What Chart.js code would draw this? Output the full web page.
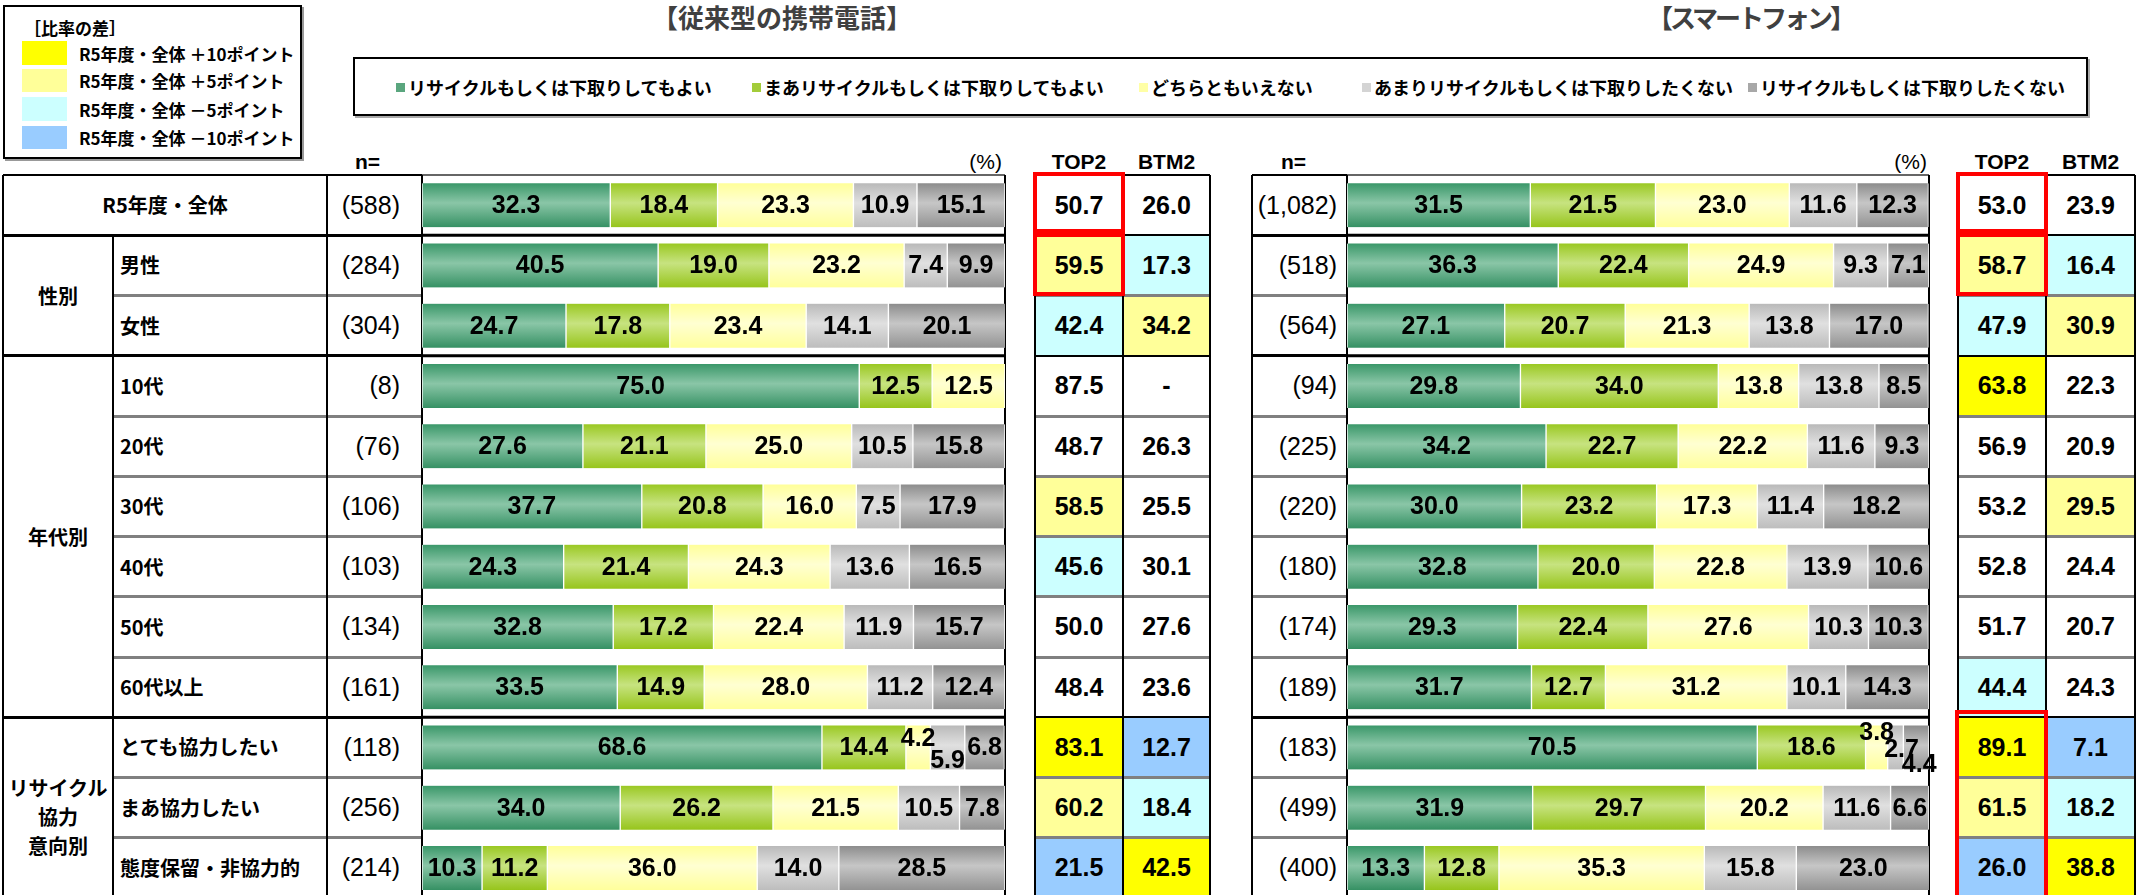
<!DOCTYPE html>
<html lang="ja">
<head>
<meta charset="utf-8">
<title>リサイクル・下取り意向</title>
<script src="https://cdn.jsdelivr.net/npm/chart.js@4.4.1/dist/chart.umd.min.js"></script>
<style>
  html, body { margin: 0; padding: 0; background: #fff; }
  body {
    width: 2143px; height: 895px; overflow: hidden; position: relative;
    font-family: "Noto Sans CJK JP", "Noto Sans", sans-serif; color: #000;
  }
  .abs { position: absolute; }
  .cell { position: absolute; display: flex; align-items: center; white-space: nowrap; box-sizing: border-box; line-height: 1; }
  .jp { font-family: "Noto Sans CJK JP", sans-serif; font-weight: bold; font-size: 20px; }
  .num { font-family: "Liberation Sans Narrow", "Liberation Sans", Arial, sans-serif; font-weight: bold; font-size: 25px; }
  .hdr { font-family: "Liberation Sans Narrow", "Liberation Sans", Arial, sans-serif; font-weight: bold; font-size: 21px; }
  .title { font-family: "Noto Sans CJK JP", sans-serif; font-weight: bold; font-size: 26px; color: #404040; }
</style>
</head>
<body>
<canvas id="fpChart" class="abs" width="603" height="745" style="left:412px;top:165px;"></canvas>
<canvas id="spChart" class="abs" width="602" height="745" style="left:1337px;top:165px;"></canvas>

<script>
// 行ラベル
const rowLabels = ['R5年度・全体', '男性', '女性', '10代', '20代', '30代', '40代', '50代', '60代以上',
    'とても協力したい', 'まあ協力したい', '態度保留・非協力的'];
const groupNames = ['性別', '年代別', 'リサイクル<br>協力<br>意向別'];
const groupStarts = [1, 3, 9, 12];

const seriesNames = ['リサイクルもしくは下取りしてもよい', 'まあリサイクルもしくは下取りしてもよい',
    'どちらともいえない', 'あまりリサイクルもしくは下取りしたくない', 'リサイクルもしくは下取りしたくない'];

// 従来型の携帯電話
const fpN = ['588', '284', '304', '8', '76', '106', '103', '134', '161', '118', '256', '214'];
const fpYoi = [32.3, 40.5, 24.7, 75.0, 27.6, 37.7, 24.3, 32.8, 33.5, 68.6, 34.0, 10.3];
const fpMaa = [18.4, 19.0, 17.8, 12.5, 21.1, 20.8, 21.4, 17.2, 14.9, 14.4, 26.2, 11.2];
const fpDochira = [23.3, 23.2, 23.4, 12.5, 25.0, 16.0, 24.3, 22.4, 28.0, 4.2, 21.5, 36.0];
const fpAmari = [10.9, 7.4, 14.1, null, 10.5, 7.5, 13.6, 11.9, 11.2, 5.9, 10.5, 14.0];
const fpNai = [15.1, 9.9, 20.1, null, 15.8, 17.9, 16.5, 15.7, 12.4, 6.8, 7.8, 28.5];
const fpTop2 = [50.7, 59.5, 42.4, 87.5, 48.7, 58.5, 45.6, 50.0, 48.4, 83.1, 60.2, 21.5];
const fpBtm2 = [26.0, 17.3, 34.2, null, 26.3, 25.5, 30.1, 27.6, 23.6, 12.7, 18.4, 42.5];

// スマートフォン
const spN = ['1,082', '518', '564', '94', '225', '220', '180', '174', '189', '183', '499', '400'];
const spYoi = [31.5, 36.3, 27.1, 29.8, 34.2, 30.0, 32.8, 29.3, 31.7, 70.5, 31.9, 13.3];
const spMaa = [21.5, 22.4, 20.7, 34.0, 22.7, 23.2, 20.0, 22.4, 12.7, 18.6, 29.7, 12.8];
const spDochira = [23.0, 24.9, 21.3, 13.8, 22.2, 17.3, 22.8, 27.6, 31.2, 3.8, 20.2, 35.3];
const spAmari = [11.6, 9.3, 13.8, 13.8, 11.6, 11.4, 13.9, 10.3, 10.1, 2.7, 11.6, 15.8];
const spNai = [12.3, 7.1, 17.0, 8.5, 9.3, 18.2, 10.6, 10.3, 14.3, 4.4, 6.6, 23.0];
const spTop2 = [53.0, 58.7, 47.9, 63.8, 56.9, 53.2, 52.8, 51.7, 44.4, 89.1, 61.5, 26.0];
const spBtm2 = [23.9, 16.4, 30.9, 22.3, 20.9, 29.5, 24.4, 20.7, 24.3, 7.1, 18.2, 38.8];

// 比率の差の凡例
const diffLabels = ['R5年度・全体 ＋10ポイント', 'R5年度・全体 ＋5ポイント', 'R5年度・全体 －5ポイント', 'R5年度・全体 －10ポイント'];

// 見た目
const ROW_TOP = 175, ROW_H = 60.25, BAR_H = 44;
const rowY = i => ROW_TOP + i * ROW_H;
const BOTTOM = rowY(12);
const diffColors = ['#ffff00', '#ffff99', '#ccffff', '#99ccff'];
const legendColors = ['#5aa67e', '#a3cc3a', '#ffffa6', '#d4d4d4', '#a8a8a8'];
const barShades = [
    ['#3a9769', '#8ac6a7', '#369164'],
    ['#9ac822', '#c7e380', '#97c51c'],
    ['#ffff99', '#ffffd2', '#ffff9c'],
    ['#b9b9b9', '#e0e0e0', '#bdbdbd'],
    ['#8c8c8c', '#c6c6c6', '#939393']
];
const LABEL_FONT = 'bold 25px "Liberation Sans Narrow", "Liberation Sans", Arial, sans-serif';
// 小さい値のラベル位置ずらし
const labelShift = { 'fp:9:2': [0, -9], 'fp:9:3': [0, 13], 'sp:9:2': [0, -15], 'sp:9:3': [6, 2], 'sp:9:4': [3, 17] };

function diffColor(v, base, n) {
    if (v == null || n < 30) return '#fff';
    const d = v - base;
    if (d >= 10) return diffColors[0];
    if (d >= 5) return diffColors[1];
    if (d <= -10) return diffColors[3];
    if (d <= -5) return diffColors[2];
    return '#fff';
}

// ---- HTMLの表部分 ----
function add(css, html, cls) {
    const d = document.createElement('div');
    d.className = cls || 'abs';
    d.style.cssText = css;
    if (html != null) d.innerHTML = html;
    document.body.insertBefore(d, document.getElementById('fpChart'));
    return d;
}
function cell(x, y, w, h, html, cls, align, extra) {
    return add(`left:${x}px;top:${y}px;width:${w}px;height:${h}px;justify-content:${align || 'center'};${extra || ''}`,
        html, 'cell ' + (cls || ''));
}
function hline(x1, x2, y, w, c) { add(`left:${x1}px;top:${y - w / 2}px;width:${x2 - x1}px;height:${w}px;background:${c};`); }
function vline(x, y1, y2, w, c) { add(`left:${x - w / 2}px;top:${y1}px;width:${w}px;height:${y2 - y1}px;background:${c};`); }

// タイトル
cell(575, 0, 414, 34, '【従来型の携帯電話】', 'title');
cell(1545, 0, 410, 34, '【スマートフォン】', 'title', 'center', 'letter-spacing:-3px;');

// 比率の差 凡例
add('left:3px;top:5px;width:295px;height:150px;border:2px solid #000;box-shadow:2px 2px 0 #999;');
cell(24, 16, 120, 22, '［比率の差］', 'jp', 'flex-start', 'font-size:17px;');
[[41, 24], [69, 23], [97, 24], [126, 23]].forEach((p, i) => {
    add(`left:22px;top:${p[0]}px;width:45px;height:${p[1]}px;background:${diffColors[i]};`);
    cell(79, p[0], 215, p[1], diffLabels[i], 'jp', 'flex-start', 'font-size:17px;');
});

// 回答の凡例
add('left:353px;top:57px;width:1731px;height:55px;border:2px solid #000;box-shadow:2px 2px 0 #aaa;');
[396, 752, 1139, 1362, 1748].forEach((x, i) => {
    add(`left:${x}px;top:83px;width:9px;height:9px;background:${legendColors[i]};`);
    cell(x + 12, 72, 400, 30, seriesNames[i], 'jp', 'flex-start', 'font-size:18px;');
});

function buildPanel(p) {
    // 見出し
    cell(p.nHdr, 150, 40, 22, 'n=', 'hdr', 'flex-start');
    cell(p.barR - 60, 150, 58, 22, '(%)', 'hdr', 'flex-end', 'font-weight:normal;');
    cell(p.t2L, 150, p.t2M - p.t2L, 22, 'TOP2', 'hdr');
    cell(p.t2M, 150, p.t2R - p.t2M, 22, 'BTM2', 'hdr');

    for (let i = 0; i < 12; i++) {
        const nVal = parseInt(p.n[i].replace(',', ''), 10);
        cell(p.nL, rowY(i), p.barL - p.nL - p.nPad, ROW_H, '(' + p.n[i] + ')', 'num', 'flex-end', 'font-weight:normal;');
        cell(p.t2L, rowY(i), p.t2M - p.t2L, ROW_H, p.top2[i] == null ? '-' : p.top2[i].toFixed(1), 'num', 'center',
            `background:${diffColor(p.top2[i], p.top2[0], nVal)};`);
        cell(p.t2M, rowY(i), p.t2R - p.t2M, ROW_H, p.btm2[i] == null ? '-' : p.btm2[i].toFixed(1), 'num', 'center',
            `background:${diffColor(p.btm2[i], p.btm2[0], nVal)};`);
    }

    // 罫線
    hline(p.tblL, p.barL, ROW_TOP, 2, '#000');
    hline(p.t2L, p.t2R, ROW_TOP, 2, '#000');
    for (let i = 1; i < 12; i++) {
        const major = groupStarts.includes(i);
        hline(major ? p.tblL : p.innerL, p.barL, rowY(i), 3, major ? '#000' : '#808080');
        hline(p.t2L, p.t2R, rowY(i), major ? 2 : 3, major ? '#000' : '#808080');
    }
    p.vlines.forEach(v => vline(v[0], v[1], BOTTOM, 2, '#000'));
    [p.t2L, p.t2M, p.t2R].forEach(x => vline(x, ROW_TOP, BOTTOM, 2, '#000'));
}

const fpPanel = { n: fpN, top2: fpTop2, btm2: fpBtm2, tblL: 3, innerL: 113, nL: 327, barL: 422, barR: 1004,
    t2L: 1035, t2M: 1123, t2R: 1210, nHdr: 355, nPad: 22,
    vlines: [[3, ROW_TOP], [113, rowY(1)], [327, ROW_TOP]] };
const spPanel = { n: spN, top2: spTop2, btm2: spBtm2, tblL: 1252, innerL: 1252, nL: 1252, barL: 1347, barR: 1929,
    t2L: 1958, t2M: 2046, t2R: 2135, nHdr: 1281, nPad: 10,
    vlines: [[1252, ROW_TOP]] };
buildPanel(fpPanel);
buildPanel(spPanel);

// 左側の行見出し
cell(3, rowY(0), 324, ROW_H, rowLabels[0], 'jp');
for (let i = 1; i < 12; i++) cell(120, rowY(i), 205, ROW_H, rowLabels[i], 'jp', 'flex-start');
groupNames.forEach((g, k) => {
    const last = k === groupNames.length - 1;
    cell(3, rowY(groupStarts[k]), 110, rowY(groupStarts[k + 1]) - rowY(groupStarts[k]), g, 'jp', 'center',
        'text-align:center;line-height:29px;' + (last ? 'padding-top:18px;' : ''));
});

// 赤枠
function redBox(x, y, w, h) { add(`left:${x}px;top:${y}px;width:${w}px;height:${h}px;border:4px solid #ff0000;box-sizing:border-box;z-index:5;`); }
redBox(1033, 172, 92, 61); redBox(1033, 233, 92, 63);
redBox(1956, 172, 92, 61); redBox(1956, 233, 92, 63); redBox(1955, 710, 93, 200);

// ---- Chart.js の帯グラフ ----
function shade(i) {
    return (c) => {
        const a = c.chart.chartArea;
        if (!a || c.dataIndex == null || !isFinite(a.top)) return barShades[i][1];
        const n = c.chart.data.labels.length;
        const yc = a.top + (c.dataIndex + 0.5) * (a.bottom - a.top) / n;
        if (!isFinite(yc)) return barShades[i][1];
        const g = c.chart.ctx.createLinearGradient(0, yc - BAR_H / 2, 0, yc + BAR_H / 2);
        g.addColorStop(0, barShades[i][0]);
        g.addColorStop(0.45, barShades[i][1]);
        g.addColorStop(1, barShades[i][2]);
        return g;
    };
}

const framePlugin = {
    id: 'frame',
    beforeDatasetsDraw(chart) {
        const { ctx, chartArea: a, scales: { y } } = chart;
        ctx.save();
        ctx.strokeStyle = '#333';
        ctx.lineWidth = 1.5;
        ctx.beginPath(); ctx.moveTo(a.left, a.top); ctx.lineTo(a.right, a.top); ctx.stroke();
        ctx.strokeStyle = '#000';
        ctx.lineWidth = 2;
        ctx.beginPath(); ctx.moveTo(a.left, a.top); ctx.lineTo(a.left, a.bottom); ctx.stroke();
        ctx.beginPath(); ctx.moveTo(a.right, a.top); ctx.lineTo(a.right, a.bottom); ctx.stroke();
        ctx.lineWidth = 3;
        groupStarts.forEach(i => {
            const yb = i >= 12 ? a.bottom : (y.getPixelForValue(i - 1) + y.getPixelForValue(i)) / 2;
            ctx.beginPath(); ctx.moveTo(a.left, yb); ctx.lineTo(a.right, yb); ctx.stroke();
        });
        ctx.restore();
    }
};

function labelPlugin(key) {
    return {
        id: 'valueLabels',
        afterDatasetsDraw(chart) {
            const ctx = chart.ctx;
            ctx.save();
            ctx.font = LABEL_FONT;
            ctx.fillStyle = '#000';
            ctx.textAlign = 'center';
            ctx.textBaseline = 'middle';
            chart.data.datasets.forEach((ds, di) => {
                chart.getDatasetMeta(di).data.forEach((el, i) => {
                    const v = ds.data[i];
                    if (v == null) return;
                    const s = labelShift[key + ':' + i + ':' + di] || [0, 0];
                    ctx.fillText(v.toFixed(1), (el.x + el.base) / 2 + s[0], el.y + 1 + s[1]);
                });
            });
            ctx.restore();
        }
    };
}

function makeChart(id, key, series) {
    return new Chart(document.getElementById(id), {
        type: 'bar',
        data: {
            labels: rowLabels,
            datasets: series.map((d, i) => ({
                label: seriesNames[i],
                data: d,
                backgroundColor: shade(i),
                borderColor: '#fff',
                borderWidth: { left: 1, right: 1, top: 0, bottom: 0 },
                borderSkipped: false,
                barThickness: BAR_H
            }))
        },
        options: {
            indexAxis: 'y',
            responsive: false,
            animation: false,
            layout: { padding: { left: 10, right: 10, top: 10, bottom: 745 - 10 - 12 * ROW_H } },
            scales: {
                x: { stacked: true, min: 0, max: 100, display: false },
                y: { stacked: true, display: false }
            },
            plugins: { legend: { display: false }, tooltip: { enabled: false } }
        },
        plugins: [framePlugin, labelPlugin(key)]
    });
}

makeChart('fpChart', 'fp', [fpYoi, fpMaa, fpDochira, fpAmari, fpNai]);
makeChart('spChart', 'sp', [spYoi, spMaa, spDochira, spAmari, spNai]);
</script>
</body>
</html>
